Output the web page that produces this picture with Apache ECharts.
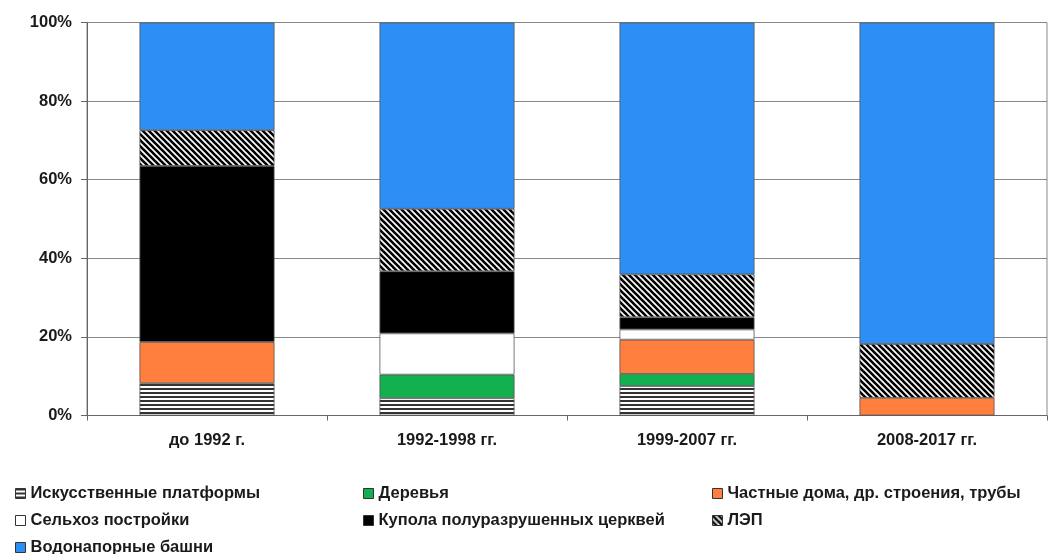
<!DOCTYPE html>
<html>
<head>
<meta charset="utf-8">
<script src="https://cdn.jsdelivr.net/npm/echarts@6/dist/echarts.min.js"></script>
<style>
html,body{margin:0;padding:0;background:#fff;}
#chart{width:1049px;height:554px;}
</style>
</head>
<body>
<div id="chart"></div>
<script>
const categories = ['до 1992 г.', '1992-1998 гг.', '1999-2007 гг.', '2008-2017 гг.'];
const seriesNames = [
  'Искусственные платформы',
  'Деревья',
  'Частные дома, др. строения, трубы',
  'Сельхоз постройки',
  'Купола полуразрушенных церквей',
  'ЛЭП',
  'Водонапорные башни'
];
const platforms = [8.2, 4.4, 7.5, 0];
const trees     = [0, 6.0, 3.1, 0];
const privateH  = [10.5, 0, 8.7, 4.5];
const farm      = [0, 10.5, 2.6, 0];
const domes     = [44.8, 15.8, 3.1, 0];
const lep       = [9.1, 15.9, 10.9, 13.7];
const water     = [27.4, 47.4, 64.1, 81.8];
const yTicks = [0, 20, 40, 60, 80, 100];

function makeHoriz() {
  const c = document.createElement('canvas');
  c.width = 4; c.height = 4;
  const g = c.getContext('2d');
  g.fillStyle = '#ffffff'; g.fillRect(0, 0, 4, 4);
  g.fillStyle = '#333333'; g.fillRect(0, 0, 4, 2);
  return c;
}
function makeDiag() {
  const s = 6;
  const c = document.createElement('canvas');
  c.width = s; c.height = s;
  const g = c.getContext('2d');
  g.fillStyle = '#ffffff'; g.fillRect(0, 0, s, s);
  g.strokeStyle = '#000000'; g.lineWidth = 2.6;
  for (const off of [-s, 0, s]) {
    g.beginPath();
    g.moveTo(off - 1, -1);
    g.lineTo(off + s + 1, s + 1);
    g.stroke();
  }
  return c;
}
const horizPattern = { image: makeHoriz(), repeat: 'repeat' };
const diagPattern = { image: makeDiag(), repeat: 'repeat' };

const values = [platforms, trees, privateH, farm, domes, lep, water];
const fills = [horizPattern, '#12b04e', '#ff7f3e', '#ffffff', '#000000', diagPattern, '#2d8ff6'];

const series = seriesNames.map((name, i) => ({
  name: name,
  type: 'bar',
  stack: 'total',
  barWidth: 135,
  data: values[i].map(v => v === 0 ? '-' : v),
  itemStyle: { color: fills[i], borderColor: '#555', borderWidth: 0.8 }
}));

const FONT = 'Liberation Sans, Arial, sans-serif';
const chart = echarts.init(document.getElementById('chart'), null, { renderer: 'canvas' });
const legendText = { fontFamily: FONT, fontWeight: 'bold', fontSize: 16.5, color: '#1a1a1a' };
const legendBase = {
  orient: 'vertical', itemWidth: 10, itemHeight: 10, itemGap: 10,
  padding: 0, height: 80,
  textStyle: legendText, icon: 'rect',
  itemStyle: { borderColor: '#333', borderWidth: 1 }
};
chart.setOption({
  animation: false,
  backgroundColor: '#fff',
  grid: { left: 87, right: 2, top: 22.5, bottom: 138.5, show: true, borderColor: '#888', borderWidth: 1 },
  legend: [
    Object.assign({}, legendBase, { left: 15, top: 485, data: [seriesNames[0], seriesNames[3], seriesNames[6]] }),
    Object.assign({}, legendBase, { left: 363, top: 485, data: [seriesNames[1], seriesNames[4]] }),
    Object.assign({}, legendBase, { left: 712, top: 485, data: [seriesNames[2], seriesNames[5]] })
  ],
  xAxis: {
    type: 'category',
    data: categories,
    axisLine: { lineStyle: { color: '#666', width: 1 } },
    axisTick: { show: true, length: 5, lineStyle: { color: '#666' } },
    axisLabel: { margin: 16, fontFamily: FONT, fontWeight: 'bold', fontSize: 16.5, color: '#1a1a1a' }
  },
  yAxis: {
    type: 'value',
    min: yTicks[0], max: yTicks[yTicks.length - 1], interval: 20,
    axisLine: { show: true, lineStyle: { color: '#666', width: 1 } },
    axisTick: { show: true, length: 6, lineStyle: { color: '#666' } },
    splitLine: { show: true, lineStyle: { color: '#888', width: 1 } },
    axisLabel: { formatter: '{value}%', margin: 15, fontFamily: FONT, fontWeight: 'bold', fontSize: 16.5, color: '#1a1a1a' }
  },
  series: series
});
</script>
</body>
</html>
